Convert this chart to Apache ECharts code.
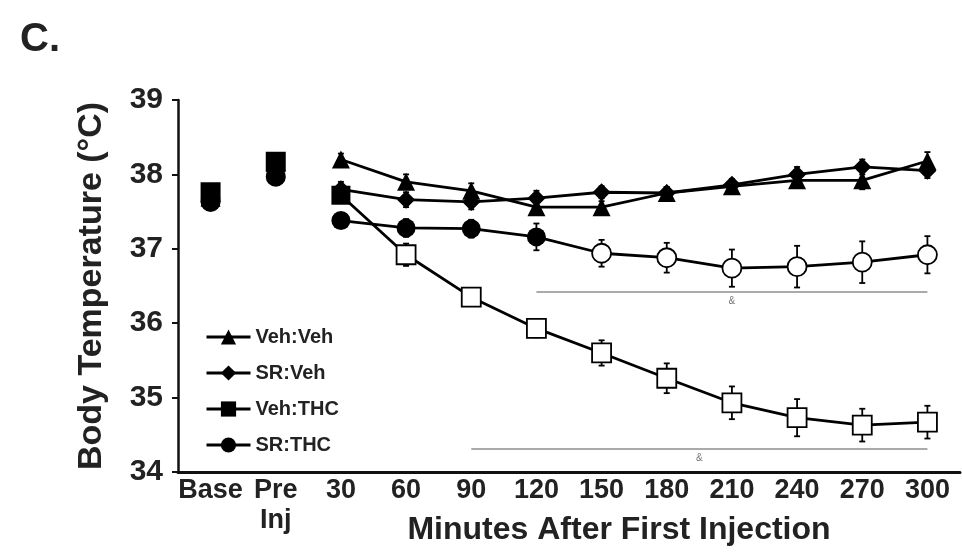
<!DOCTYPE html>
<html>
<head>
<meta charset="utf-8">
<script src="https://cdn.jsdelivr.net/npm/echarts/dist/echarts.min.js"></script>
<style>
  html, body { margin: 0; background: #fff; }
  #chart { width: 962px; height: 552px; }
</style>
</head>
<body>
<div id="chart"></div>
<script>
const categories = ['Base', 'Pre\nInj', '30', '60', '90', '120', '150', '180', '210', '240', '270', '300']
const groups = ['Veh:Veh', 'SR:Veh', 'Veh:THC', 'SR:THC']

// Base, Pre Inj
const vehVehPre = [37.7, 38.08]
const srVehPre = [37.68, 38.05]
const vehThcPre = [37.76, 38.17]
const srThcPre = [37.63, 37.97]

// 30 .. 300 min after first injection
const vehVeh = [38.2, 37.9, 37.78, 37.56, 37.56, 37.75, 37.84, 37.92, 37.92, 38.18]
const srVeh = [37.8, 37.66, 37.63, 37.68, 37.76, 37.75, 37.86, 38.0, 38.1, 38.05]
const vehThc = [37.72, 36.92, 36.35, 35.93, 35.6, 35.26, 34.93, 34.73, 34.63, 34.67]
const srThc = [37.38, 37.28, 37.27, 37.16, 36.94, 36.88, 36.74, 36.76, 36.82, 36.92]

// SEM
const vehVehErr = [0.08, 0.1, 0.1, 0.1, 0.08, 0.08, 0.08, 0.1, 0.12, 0.12]
const srVehErr = [0.1, 0.1, 0.1, 0.1, 0.08, 0.08, 0.08, 0.1, 0.1, 0.1]
const vehThcErr = [0.1, 0.15, 0.12, 0.12, 0.17, 0.2, 0.22, 0.25, 0.22, 0.22]
const srThcErr = [0.08, 0.12, 0.12, 0.18, 0.18, 0.2, 0.25, 0.28, 0.28, 0.25]

// first time index drawn with an open symbol (significant)
const vehThcSigFrom = 1
const srThcSigFrom = 4

// significance bars: from, to, level
const sigBars = [['120', '300', 36.42], ['90', '300', 34.31]]

const timeCats = categories.slice(2)
const symbols = ['triangle', 'diamond', 'rect', 'circle']
const sizes = [18, 18, 19, 19]
const post = [vehVeh, srVeh, vehThc, srThc]
const pre = [vehVehPre, srVehPre, vehThcPre, srThcPre]
const errs = [vehVehErr, srVehErr, vehThcErr, srThcErr]
const sigFrom = [99, 99, vehThcSigFrom, srThcSigFrom]

const openStyle = { color: '#fff', borderColor: '#000', borderWidth: 1.8 }
const font = 'Liberation Sans, Arial, sans-serif'

let series = []
groups.forEach((g, k) => {
  series.push({
    name: g,
    type: 'line',
    symbol: symbols[k],
    symbolSize: sizes[k],
    z: 3,
    lineStyle: { color: '#000', width: 2.8 },
    itemStyle: { color: '#000' },
    data: post[k].map((v, i) => ({
      value: [timeCats[i], v],
      itemStyle: i >= sigFrom[k] ? openStyle : undefined
    })),
    markLine: k === 2 ? {
      symbol: 'none',
      silent: true,
      lineStyle: { color: '#aaa', type: 'solid', width: 2 },
      label: { position: 'insideMiddleBottom', formatter: '&', color: '#777', fontSize: 10, distance: 4 },
      data: sigBars.map(b => [{ coord: [b[0], b[2]] }, { coord: [b[1], b[2]] }])
    } : undefined
  })
})
// base / pre points (not joined to the time course)
groups.forEach((g, k) => {
  series.push({
    name: g,
    type: 'scatter',
    symbol: symbols[k],
    symbolSize: 20,
    z: 3,
    itemStyle: { color: '#000', opacity: 1 },
    data: pre[k].map((v, i) => [categories[i], v])
  })
})
// error bars
groups.forEach((g, k) => {
  series.push({
    type: 'custom',
    z: 2,
    silent: true,
    encode: { x: 0, y: [1, 2] },
    data: post[k].map((v, i) => [timeCats[i], v - errs[k][i], v + errs[k][i]]),
    renderItem: (params, api) => {
      const lo = api.coord([api.value(0), api.value(1)])
      const hi = api.coord([api.value(0), api.value(2)])
      const w = 3
      const st = { stroke: '#000', lineWidth: 1.8 }
      return {
        type: 'group',
        children: [
          { type: 'line', shape: { x1: lo[0], y1: lo[1], x2: hi[0], y2: hi[1] }, style: st },
          { type: 'line', shape: { x1: lo[0] - w, y1: lo[1], x2: lo[0] + w, y2: lo[1] }, style: st },
          { type: 'line', shape: { x1: hi[0] - w, y1: hi[1], x2: hi[0] + w, y2: hi[1] }, style: st }
        ]
      }
    }
  })
})

let myChart = echarts.init(document.getElementById('chart'))
myChart.setOption({
  backgroundColor: '#fff',
  animation: false,
  textStyle: { fontFamily: font },
  grid: { left: 178, right: 2, top: 100, bottom: 80 },
  legend: {
    data: groups,
    orient: 'vertical',
    left: 200,
    top: 322,
    itemWidth: 44,
    itemHeight: 19,
    itemGap: 16,
    lineStyle: { width: 3 },
    textStyle: { color: '#222', fontWeight: 'bold', fontSize: 20 }
  },
  graphic: [
    {
      type: 'text',
      left: 20,
      top: 20,
      style: { text: 'C.', font: 'bold 40px ' + font, fill: '#222' }
    },
    {
      type: 'text',
      x: 619,
      y: 514,
      style: { text: 'Minutes After First Injection', font: 'bold 32px ' + font, fill: '#222', textAlign: 'center', textVerticalAlign: 'top' }
    }
  ],
  xAxis: {
    type: 'category',
    data: categories,
    boundaryGap: true,
    axisLine: { lineStyle: { color: '#111', width: 3 } },
    axisTick: { inside: true, length: 5, interval: 0, lineStyle: { color: '#111', width: 2 } },
    axisLabel: { color: '#222', fontWeight: 'bold', fontSize: 27, margin: 4, lineHeight: 30, interval: 0 },
    splitLine: { show: false }
  },
  yAxis: {
    type: 'value',
    min: 34,
    max: 39,
    interval: 1,
    name: 'Body Temperature (°C)',
    nameLocation: 'middle',
    nameGap: 69,
    nameTextStyle: { color: '#222', fontWeight: 'bold', fontSize: 34 },
    axisLine: { show: true, lineStyle: { color: '#111', width: 2.5 } },
    axisTick: { show: true, length: 6, lineStyle: { color: '#111', width: 2 } },
    axisLabel: { color: '#222', fontWeight: 'bold', fontSize: 30, margin: 15 },
    splitLine: { show: false }
  },
  series: series
})
</script>
</body>
</html>
